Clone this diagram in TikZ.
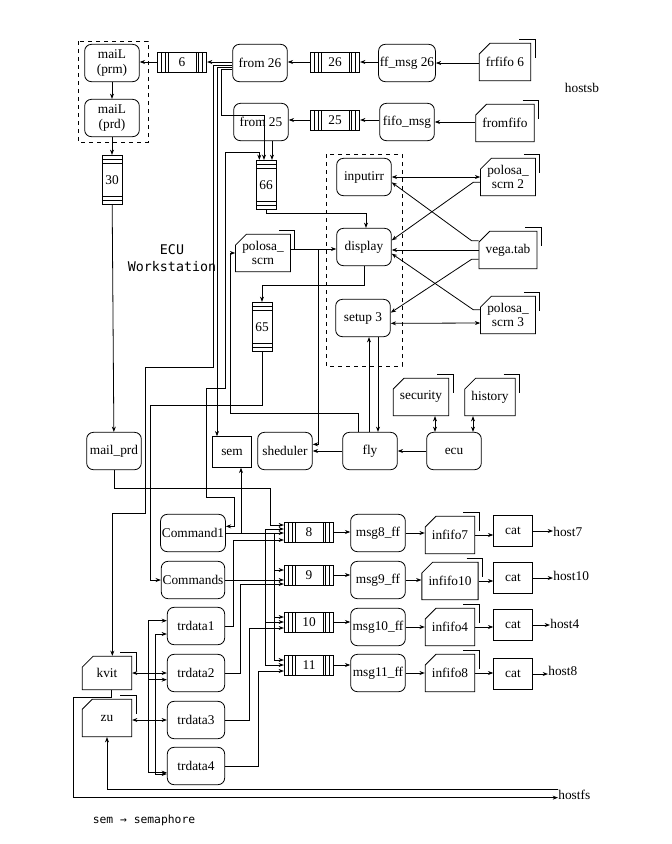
\documentclass[tikz,border=0pt]{standalone}
\usepackage{fontspec}
\setmainfont{Liberation Serif}
\newfontfamily\monof{DejaVu Sans Mono}
\usetikzlibrary{arrows.meta,shapes.misc}
\begin{document}
\begin{tikzpicture}[x=0.75pt,y=-0.75pt,line width=0.6pt,
 >={Stealth[length=4pt,width=3pt]},
 every node/.style={font=\fontsize{10}{11}\selectfont},
 box/.style={draw,rounded corners=5pt,minimum width=41pt,minimum height=28pt,inner sep=1pt,align=center},
 rbox/.style={draw,minimum width=29pt,minimum height=23pt,inner sep=1pt},
 file/.style={draw,chamfered rectangle,chamfered rectangle corners=north west,chamfered rectangle xsep=4pt,chamfered rectangle ysep=4pt,
   minimum width=37pt,minimum height=28pt,inner sep=1pt,align=center},
 bracket/.style={line width=0.6pt},
 qh/.style={draw,minimum width=37pt,minimum height=15pt,inner sep=0pt,
   path picture={\foreach \d in {3pt,6pt,8pt}{\draw[line width=0.5pt] ([xshift=\d]path picture bounding box.south west) -- ([xshift=\d]path picture bounding box.north west);
     \draw[line width=0.5pt] ([xshift=-\d]path picture bounding box.south east) -- ([xshift=-\d]path picture bounding box.north east);}}},
 qv/.style={draw,minimum width=15pt,minimum height=37pt,inner sep=0pt,
   path picture={\foreach \d in {3pt,6pt}{\draw[line width=0.5pt] ([yshift=\d]path picture bounding box.south west) -- ([yshift=\d]path picture bounding box.south east);
     \draw[line width=0.5pt] ([yshift=-\d]path picture bounding box.north west) -- ([yshift=-\d]path picture bounding box.north east);}}},
 dbox/.style={draw,dashed,line width=0.6pt}
]
\useasboundingbox (0,0) rectangle (672,844);
% dashed groups
\draw[dbox] (78,41) rectangle (148,142);
\draw[dbox] (326,154) rectangle (402,366);
% top rows
\node[box] (prm) at (112,63) {maiL\\(prm)};
\node[box] (prd) at (112,118) {maiL\\(prd)};
\node[qh] (q6) at (182,62) {6};
\node[box] (from26) at (260,63) {from 26};
\node[qh] (q26) at (335,62) {26};
\node[box] (ff26) at (407,63) {ff\_msg 26};
\node[file] (frfifo) at (505,62) {frfifo 6};
\node (hostsb) at (582,88) {hostsb};
\node[box] (from25) at (261,122) {from 25};
\node[qh] (q25) at (335,120) {25};
\node[box] (fifomsg) at (407,122) {fifo\_msg};
\node[file] (fromfifo) at (505,123) {fromfifo};
\node[qv] (q30) at (112,180) {30};
\node[qv] (q66) at (266,185) {66};
\node[box] (inputirr) at (364,177) {inputirr};
\node[box] (display) at (364,247) {display};
\node[box] (setup) at (363,318) {setup 3};
\node[file] (pol2) at (508,177) {polosa\_\\scrn 2};
\node[file] (vega) at (508,250) {vega.tab};
\node[file] (pol3) at (508,315) {polosa\_\\scrn 3};
\node[file] (pol) at (263,253) {polosa\_\\scrn};
\node[qv] (q65) at (262,327) {65};
\node[align=center,font=\monof\fontsize{10}{13}\selectfont] (ecuw) at (172,258) {ECU\\Workstation};
\node[file] (security) at (421,397) {security};
\node[file] (history) at (490,397) {history};
\node[box] (mailprd) at (114,451) {mail\_prd};
\node[rbox] (sem) at (232,452) {sem};
\node[box] (shed) at (285,451) {sheduler};
\node[box] (fly) at (370,451) {fly};
\node[box] (ecu) at (454,451) {ecu};
\node[box,minimum width=47pt] (cmd1) at (193,533) {Command1};
\node[box,minimum width=46pt] (cmds) at (193,580) {Commands};
\node[box,minimum width=43pt] (tr1) at (196,626) {trdata1};
\node[box,minimum width=43pt] (tr2) at (196,673) {trdata2};
\node[box,minimum width=43pt] (tr3) at (196,720) {trdata3};
\node[box,minimum width=43pt] (tr4) at (196,766) {trdata4};
\node[file,minimum height=25pt] (kvit) at (107,673) {kvit};
\node[file] (zu) at (107,718) {zu};
\node[qh] (q8) at (309,532) {8};
\node[qh] (q9) at (309,575) {9};
\node[qh] (q10) at (309,622) {10};
\node[qh] (q11) at (309,665) {11};
\node[box] (m8) at (378,533) {msg8\_ff};
\node[box] (m9) at (378,580) {msg9\_ff};
\node[box] (m10) at (378,627) {msg10\_ff};
\node[box] (m11) at (378,673) {msg11\_ff};
\node[file] (i7) at (450,535) {infifo7};
\node[file] (i10) at (450,581) {infifo10};
\node[file] (i4) at (450,627) {infifo4};
\node[file] (i8) at (450,673) {infifo8};
\node[rbox] (c7) at (513,531) {cat};
\node[rbox] (c10) at (513,578) {cat};
\node[rbox] (c4) at (513,625) {cat};
\node[rbox] (c8) at (513,674) {cat};
\node[anchor=west,inner sep=0pt] (h7) at (553,532) {host7};
\node[anchor=west,inner sep=0pt] (h10) at (553,576) {host10};
\node[anchor=west,inner sep=0pt] (h4) at (550,624) {host4};
\node[anchor=west,inner sep=0pt] (h8) at (548,671) {host8};
\node[anchor=west,inner sep=0pt] (hostfs) at (558,795) {hostfs};
\node[anchor=west,font=\monof\fontsize{8.5}{10}\selectfont] (legend) at (88,820) {sem → semaphore};
% file brackets
\foreach \f in {frfifo,fromfifo,pol2,vega,pol3,pol,security,history,kvit,zu,i7,i10,i4,i8}{
  \draw[bracket] ([xshift=-9pt,yshift=3pt]\f.north east) -| ([xshift=3pt,yshift=-11pt]\f.north east);
}
% top chain
\draw[->] (q6.east -| from26.west) -- (q6.east);
\draw[->] (q6.west) -- (q6.west -| prm.east);
\draw[->] (prm) -- (prd);
\draw[->] (prd) -- (q30);
\draw[->] (q30) -- (mailprd);
\draw[->] (q26.east -| ff26.west) -- (q26.east);
\draw[->] (q26.west) -- (q26.west -| from26.east);
\draw[->] (frfifo.west |- ff26.east) -- (ff26.east);
\draw[->] (q25.east -| fifomsg.west) -- (q25.east);
\draw[->] (q25.west) -- (q25.west -| from25.east);
\draw[->] (fromfifo.west |- fifomsg.east) -- (fifomsg.east);
% from26 bundle
\draw[->] ([yshift=-1.5pt]from26.west) -| (213,367) -| (145,513) -| ([xshift=4pt]kvit.north);
\draw[->] ([yshift=-3pt]from26.west) -| (sem.north -| 217,0);
\draw[->] ([yshift=-4.5pt]from26.west) -| (221,115) -| ([xshift=-1.5pt]q66.north);
\draw[<->] ([yshift=5pt]cmd1.east) -| (234,497) -| (206,388) -| (225,152) -| ([xshift=-5pt]q66.north);
\draw[->] ([xshift=4.5pt]q66.north |- from25.south) -- ([xshift=4.5pt]q66.north);
\draw[->] (q66.south) |- ([xshift=1.5pt]display.north |- 0,213) -- ([xshift=1.5pt]display.north);
\draw[->] ([yshift=3pt]pol.east) -- (display.west |- 0,249);
\draw[->] (318,249) |- ([yshift=5pt]shed.east);
\draw[->] (display.south) |- (q65.north |- 0,285) -- (q65.north);
\draw[->] (q65.south) |- (150,405) |- (cmds.west);
\draw[->] ([xshift=-9pt]fly.north) |- (230,413) |- (pol.west);
\draw[->] (fly.north -| 369,0) -- (setup.south -| 369,0);
\draw[->] (setup.south -| 378,0) -- (fly.north -| 378,0);
\draw[->] (ecu) -- (fly);
\draw[->] (fly) -- (shed);
\draw[<->] (security.south -| 435,0) -- (ecu.north -| 435,0);
\draw[<->] (history.south -| 473,0) -- (ecu.north -| 473,0);
% right cluster
\draw[<->] (inputirr.east) -- (pol2.west |- inputirr.east);
\draw[->] ([yshift=-4pt]pol2.west) -- ++(-7,0) -- ([yshift=5pt]display.east);
\draw[->] ([yshift=7pt]vega.west) -- ++(-7,0) -- ([yshift=-4pt]inputirr.east);
\draw[->] (vega.west) -- (display.east |- vega.west);
\draw[->] ([yshift=-7pt]vega.west) -- ++(-7,0) -- ([yshift=4pt]setup.east);
\draw[->] ([yshift=4pt]pol3.west) -- ++(-7,0) -- ([yshift=-5pt]display.east);
\draw[<->] ([yshift=-4pt]setup.east) -- (pol3.west |- 0,323);
% lower
\draw[->] (mailprd.south) |- (270,488) |- (q8.west |- 0,525);
\draw[->] (cmd1.east) -| (sem.south -| 241,0);
\draw[->] (cmd1.east) -- (q8.west |- cmd1.east);
\draw[->] (cmd1.east) -| (274,570) -- (q9.west |- 0,570);
\draw[->] (cmd1.east) -| (274,617) -- (q10.west |- 0,617);
\draw[->] (cmd1.east) -| (274,660) -- (q11.west |- 0,660);
\draw[->] (cmds.east) -- (q9.west |- cmds.east);
\draw[->] (cmds.east) -| (265,529) -- (q8.west |- 0,529);
\draw[->] (cmds.east) -| (265,622) -- (q10.west |- 0,622);
\draw[->] (cmds.east) -| (265,665) -- (q11.west |- 0,665);
\draw[->] (tr1.east) -| (233,540) -- (q8.west |- 0,540);
\draw[->] (tr2.east) -| (240,584) -- (q9.west |- 0,584);
\draw[->] (tr3.east) -| (249,628) -- (q10.west |- 0,628);
\draw[->] (tr4.east) -| (258,671) -- (q11.west |- 0,671);
\foreach \q/\m/\i/\c/\h in {q8/m8/i7/c7/h7,q9/m9/i10/c10/h10,q10/m10/i4/c4/h4,q11/m11/i8/c8/h8}{
  \draw[->] (\q.east) -- (\m.west |- \q.east);
  \draw[->] (\m.east) -- (\i.west |- \m.east);
  \draw[->] (\i.east) -- (\c.west |- \i.east);
  \draw[->] (\c.east) -- (\h.west |- \c.east);
}
% left buses
\draw[<->] (kvit.east) -- (tr2.west);
\draw[<->] (zu.east |- tr3.west) -- (tr3.west);
\draw[->] (kvit.east -| 155,0) |- ([yshift=-6pt]tr1.west);
\draw[->] (kvit.east -| 155,0) |- ([yshift=-6pt]tr4.west);
\draw[->] (tr3.west -| 148,0) |- ([yshift=4pt]tr1.west);
\draw[->] (tr3.west -| 148,0) |- ([yshift=-5pt]tr2.west);
\draw[->] (tr3.west -| 148,0) |- ([yshift=-5pt]tr4.west);
\draw[->] (hostfs.west |- 0,789) -| (zu.south);
\draw[->] ([xshift=3pt]kvit.south) |- (73,697) |- ([yshift=-2pt]hostfs.west);
\end{tikzpicture}
\end{document}
